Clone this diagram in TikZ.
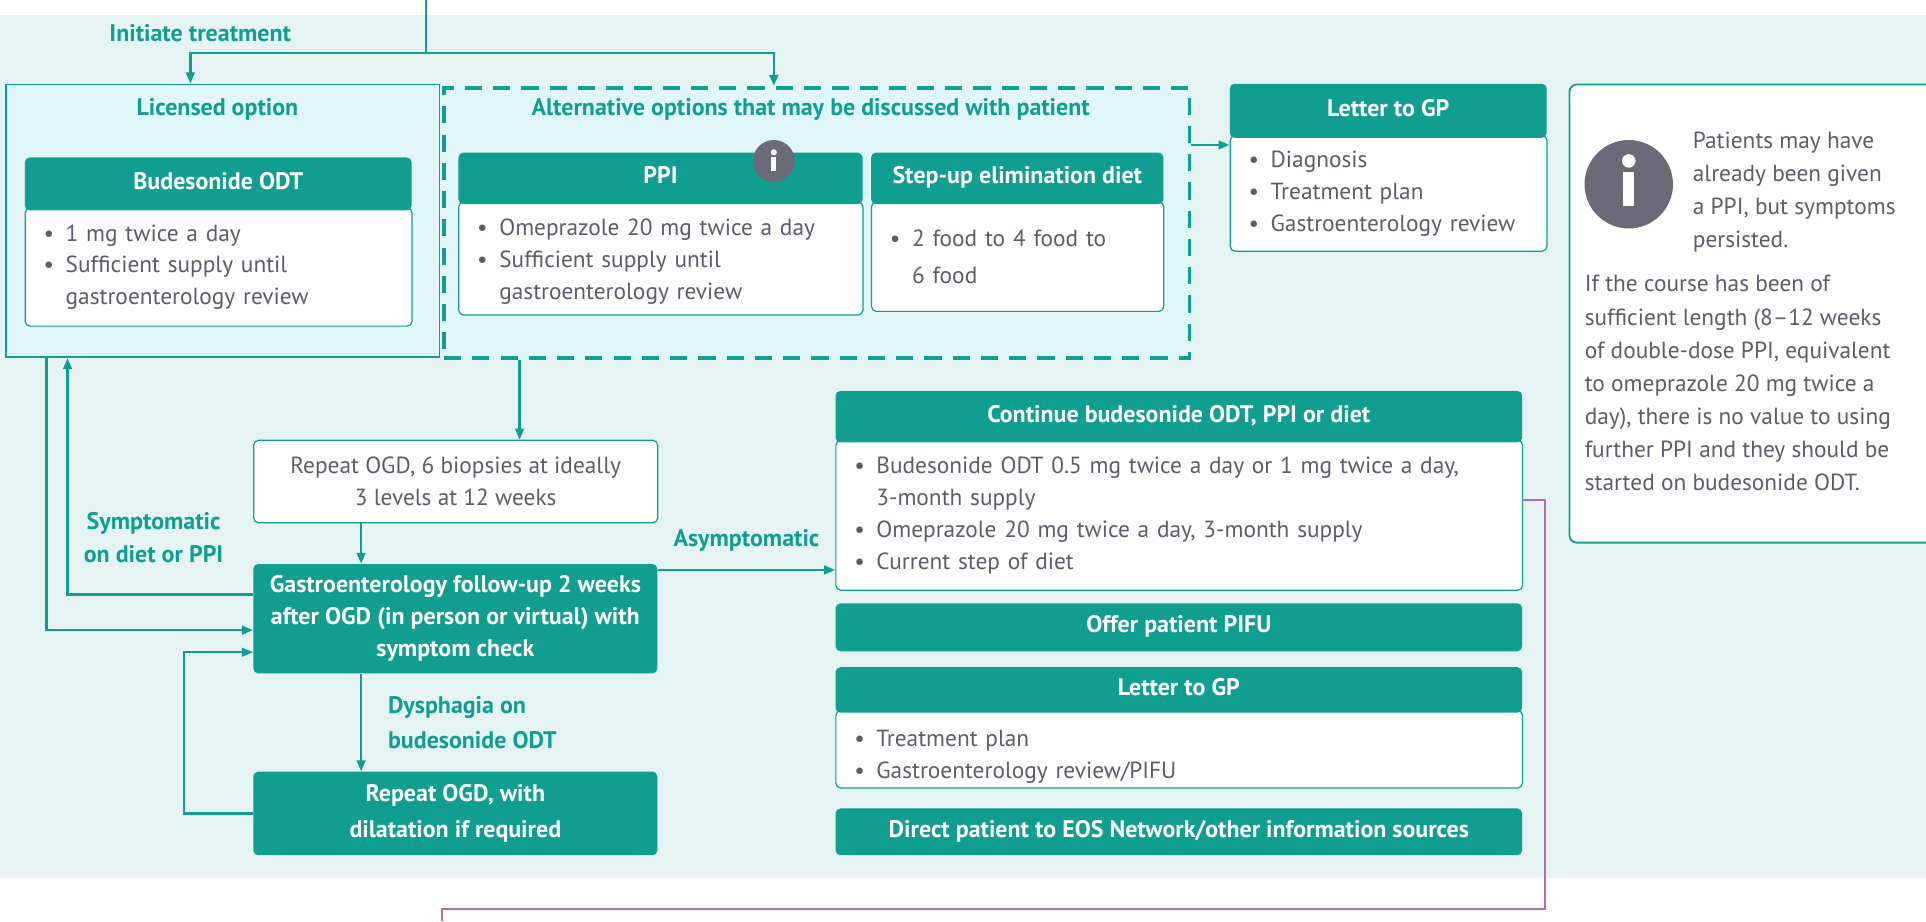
\documentclass[tikz,border=0pt]{standalone}
\usepackage{fontspec}
\setmainfont{PT Sans}
\usetikzlibrary{arrows.meta,positioning}
\definecolor{eosteal}{HTML}{109E90}
\definecolor{eosbg}{HTML}{E5F3F2}
\definecolor{eosbox}{HTML}{E0F6F8}
\definecolor{eosgrey}{HTML}{5C5C6C}
\definecolor{eosicon}{HTML}{6A6B78}
\definecolor{eospurple}{HTML}{B46CB2}
\newcommand{\bul}{\makebox[18pt][l]{\textbullet}}
\newcommand{\ind}{\hspace*{18pt}}
\tikzset{
  every node/.style={font=\fontsize{19}{26}\selectfont},
  hd/.style={fill=eosteal,text=white,font=\fontsize{19.5}{26}\selectfont\bfseries,rounded corners=4pt,anchor=north west,inner sep=0pt,align=center,text height=13pt,text depth=4pt},
  bd/.style={fill=white,draw=eosteal,line width=1pt,rounded corners=4pt,anchor=north west,inner xsep=15pt,inner ysep=0pt,text=eosgrey,align=left},
  tb/.style={fill=eosteal,text=white,font=\fontsize{19.5}{26}\selectfont\bfseries,rounded corners=4pt,anchor=north west,inner sep=0pt,align=center},
  wb/.style={fill=white,draw=eosteal,line width=1pt,rounded corners=4pt,anchor=north west,inner sep=0pt,align=center,text=eosgrey},
  opt/.style={fill=eosbox,draw=eosteal,line width=1.5pt,anchor=north west,inner sep=0pt},
  lbl/.style={text=eosteal,font=\fontsize{19.5}{27}\selectfont\bfseries,align=center,inner sep=0pt},
  txt/.style={text=eosgrey,font=\fontsize{19}{27}\selectfont,align=left,inner sep=0pt,anchor=north west},
  line/.style={eosteal,line width=2pt},
  arr/.style={line,-{Triangle[length=9pt,width=7pt]}},
  purp/.style={eospurple,line width=2pt}
}
\begin{document}
\begin{tikzpicture}[x=1pt,y=-1pt]
\useasboundingbox (0,0) rectangle (1568,750);
\fill[white] (0,0) rectangle (1568,750);
\fill[eosbg] (0,12) rectangle (1568,715);

% treatment options
\node[lbl] (init) at (163,27) {Initiate treatment};
\node[opt,minimum width=353pt,minimum height=222pt] (lic) at (4,68) {};
\node[lbl] (licT) at (177,89) {Licensed option};
\node[opt,dash pattern=on 14pt off 9pt,line width=3pt,minimum width=607pt,minimum height=220pt] (alt) at (360,70) {};
\node[lbl] (altT) at (660,89) {Alternative options that may be discussed with patient};

\node[bd,minimum width=315pt,minimum height=96pt,text width=285pt] (bud) at (20,169) {\bul 1 mg twice a day\\ \bul Sufficient supply until\\ \ind gastroenterology review};
\node[hd,minimum width=315pt,minimum height=43pt] (budH) at (20,128) {Budesonide ODT};

\node[bd,minimum width=329pt,minimum height=92pt,text width=299pt] (ppi) at (373,164) {\rule{0pt}{18pt}\bul Omeprazole 20 mg twice a day\\ \bul Sufficient supply until\\ \ind gastroenterology review};
\node[hd,minimum width=329pt,minimum height=42pt] (ppiH) at (373,124) {PPI};
\node[circle,fill=eosicon,minimum size=34pt,inner sep=0pt] (ppiI) at (630,131) {};
\fill[white] ([yshift=7pt]ppiI.center) circle (2.5pt);
\fill[white] ([xshift=-2pt,yshift=3pt]ppiI.center) rectangle ([xshift=2pt,yshift=-8pt]ppiI.center);

\node[bd,minimum width=238pt,minimum height=89pt,text width=208pt] (diet) at (709,164) {\bul 2 food to 4 food to\\[4pt] \ind 6 food};
\node[hd,minimum width=238pt,minimum height=42pt] (dietH) at (709,124) {Step-up elimination diet};

\node[bd,minimum width=258pt,minimum height=94pt,text width=228pt] (let1) at (1001,110) {\bul Diagnosis\\ \bul Treatment plan\\ \bul Gastroenterology review};
\node[hd,minimum width=258pt,minimum height=44pt] (let1H) at (1001,68) {Letter to GP};

% note
\node[fill=white,draw=eosteal,line width=1.5pt,rounded corners=6pt,anchor=north west,minimum width=330pt,minimum height=373pt] (note) at (1277,68) {};
\node[circle,fill=eosicon,minimum size=72pt,inner sep=0pt] (noteI) at (1326,150) {};
\fill[white] ([yshift=19pt]noteI.center) circle (5.5pt);
\fill[white] ([xshift=-4.5pt,yshift=10pt]noteI.center) rectangle ([xshift=4.5pt,yshift=-18pt]noteI.center);
\node[txt] (noteA) at (1378,107) {Patients may have\\already been given\\a PPI, but symptoms\\persisted.};
\node[txt] (noteB) at (1290,224) {If the course has been of\\sufficient length (8--12 weeks\\of double-dose PPI, equivalent\\to omeprazole 20 mg twice a\\day), there is no value to using\\further PPI and they should be\\started on budesonide ODT.};

% follow-up
\node[wb,minimum width=329pt,minimum height=67pt] (rep) at (206,358) {Repeat OGD, 6 biopsies at ideally\\3 levels at 12 weeks};
\node[tb,minimum width=329pt,minimum height=89pt] (gas) at (206,459) {Gastroenterology follow-up 2 weeks\\after OGD (in person or virtual) with\\symptom check};
\node[tb,minimum width=329pt,minimum height=68pt] (dil) at (206,628) {Repeat OGD, with\\[3pt]dilatation if required};
\node[lbl] (sym) at (125,438) {Symptomatic\\on diet or PPI};

\node[bd,minimum width=559pt,minimum height=122pt,text width=529pt] (cont) at (680,358) {\bul Budesonide ODT 0.5 mg twice a day or 1 mg twice a day,\\ \ind 3-month supply\\ \bul Omeprazole 20 mg twice a day, 3-month supply\\ \bul Current step of diet};
\node[hd,minimum width=559pt,minimum height=42pt] (contH) at (680,318) {Continue budesonide ODT, PPI or diet};
\node[tb,minimum width=559pt,minimum height=39pt,text height=13pt,text depth=4pt] (pifu) at (680,491) {Offer patient PIFU};
\node[bd,minimum width=559pt,minimum height=63pt,text width=529pt] (let2) at (680,578) {\rule{0pt}{25pt}\bul Treatment plan\\ \bul Gastroenterology review/PIFU};
\node[hd,minimum width=559pt,minimum height=37pt] (let2H) at (680,543) {Letter to GP};
\node[tb,minimum width=559pt,minimum height=38pt,text height=13pt,text depth=4pt] (eos) at (680,658) {Direct patient to EOS Network/other information sources};

% connectors
\coordinate (start) at (347,0);
\coordinate (split) at (347,43);
\draw[line] (start) -- (split);
\draw[arr] (split) -| ([xshift=151pt]lic.north west);
\draw[arr] (split) -| ([xshift=270pt]alt.north west);
\coordinate (altR) at ([yshift=-48pt]alt.north east);
\draw[arr] (altR) -- (altR -| let1.west);
\coordinate (altB) at ([xshift=63pt]alt.south west);
\draw[arr] (altB) -- (altB |- rep.north);
\coordinate (repB) at ([xshift=88pt]rep.south west);
\draw[arr] (repB) -- (repB |- gas.north);
\coordinate (gasB) at ([xshift=88pt]gas.south west);
\draw[arr] (gasB) -- (gasB |- dil.north) node[lbl,midway,right=21pt,align=left] {Dysphagia on\\[2pt]budesonide ODT};
\draw[arr] (dil.west) -- ++(-56,0) |- ([yshift=-72pt]gas.north west);
\draw[arr] ([xshift=34pt]lic.south west) |- ([yshift=-54pt]gas.north west);
\draw[arr] ([yshift=-25pt]gas.north west) -| ([xshift=51pt]lic.south west);
\coordinate (gasR) at ([yshift=-5pt]gas.north east);
\draw[arr] (gasR) -- (gasR -| cont.west) node[lbl,midway,above=14pt] {Asymptomatic};
\coordinate (contR) at ([yshift=-89pt]contH.north east);
\coordinate (exit) at (360,750);
\draw[purp] (contR) -| (1258,740) -| (exit);
\end{tikzpicture}
\end{document}
